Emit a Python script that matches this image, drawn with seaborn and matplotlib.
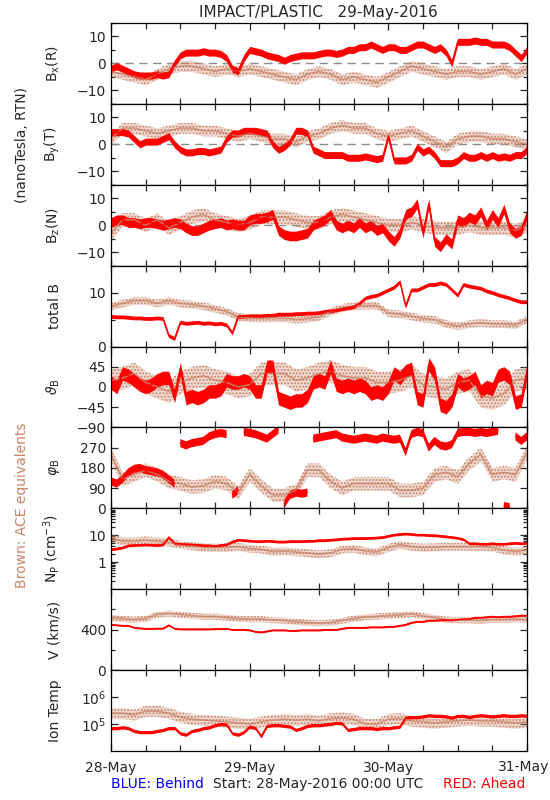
import numpy as np
import matplotlib
matplotlib.use("Agg")
import matplotlib.pyplot as plt
import matplotlib.ticker as mticker
import seaborn as sns

# sample times, hours since 28-May-2016 00:00 UTC
hours_red = list(range(0, 73))      # Ahead, hourly
hours_ace = list(range(0, 73, 2))   # ACE, every 2 h

# Bx (R), nT
bx_red = [-2, -1, -2, -3, -4, -4.5, -4.5, -4.5, -4, -4.5, -4, 0, 3, 4, 4, 4, 4.5, 4, 4, 3.5, 2,
          -2, -3, 2, 5, 4.5, 4, 3, 2.5, 2, 1, 2, 2.5, 3, 3, 3, 3.5, 4, 4, 3.5, 4, 5, 5, 6, 6,
          7, 6, 5, 6, 6, 5, 5, 6, 7, 7, 6, 5, 6, 4, 0, 8, 8, 8, 8.5, 8, 8, 7, 7, 7, 6, 4, 2, 5]
bx_ace = [-3, -4, -5, -6, -4, -2, -1, -1, -2, -3, -2, -3, -2, -3, -4, -5, -6, -4, -3, -4,
          -6, -5, -6, -7, -5, -3, -1, -2, -3, -4, -3, -3, -4, -3, -2, -4, -2]

# By (T), nT
by_red = [4.5, 4.5, 4.5, 4, 2, 0, 1, 1, 1, 2, 3, 0, -2, -3, -3, -2.5, -2.5, -3, -2.5, -2, 2, 4, 4,
          5, 5, 5, 4.5, 4, 0, -2, -1, 1, 5, 5, 4, -2, -3, -4, -4, -4, -4, -5, -5, -5, -4.5, -5,
          -5.5, -5, 3, -6, -6, -6, -5, -1, -3, -2, -4, -7, -7, -7, -6, -4, -5, -5, -4, -5, -4,
          -5, -4.5, -5, -4, -4, -2]
by_ace = [2, 6, 6, 5, 4, 5, 6, 6, 5, 5, 4, 3, 4, 3, 2, 2, 1, 3, 4, 6,
          7, 6, 6, 4, 3, 4, 5, 3, 1, -1, 2, 3, 3, 2, 2, 1, 0]

# Bz (N), nT
bz_red = [1, 2, 2, 1, 1, 0.5, 1, 1, 0.5, 0, 0.5, 1, 0.5, -1, -2, -2, -1, 0, 0.5, 1, 0, 0.5, 0, 0,
          2, 2.5, 2.5, 3, 4, -2, -3.5, -4, -4, -3.5, -3, 0, 1, 2, 4, 0, -1, 0, -1, 1, -1, 0, -2,
          -1, -4, -6, -3, 4, 5, 8, -3, 8, -6, -8, -5, -7, 2, 1, 3, 2, 5, 0, 4, 1, 6, -1, -3, -2, 4]
bz_ace = [-3, 2, 2, 0, 2, -1, 1, 3, 4, 2, 1, 0, 1, 3, 3, 3, 2, 1, 1, 3,
          4, 3, 2, 1, 0, 0, 1, 0, -1, -1, -1, 0, -1, -1, -1, -2, 0]

# total B, nT
btot_red = [5.6, 5.5, 5.5, 5.4, 5.3, 5.3, 5.2, 5.2, 5.3, 5.2, 2.0, 1.5, 4.5, 4.3, 4.4, 4.5, 4.3,
            4.4, 4.2, 4.3, 4.0, 2.5, 5.6, 5.6, 5.7, 5.7, 5.7, 5.8, 5.8, 6.0, 6.0, 6.0, 6.1, 6.1,
            6.2, 6.2, 6.3, 6.5, 6.6, 6.8, 7.0, 7.2, 7.4, 8.0, 9.0, 9.3, 9.5, 10.0, 10.5, 11.0,
            12.0, 7.5, 10.5, 10.5, 11.0, 11.5, 11.5, 11.8, 11.5, 10.5, 9.5, 11.5, 11.2, 11.0,
            10.8, 10.3, 10.0, 9.6, 9.3, 9.0, 8.6, 8.3, 8.3]
btot_ace = [7.5, 8, 8.5, 8.5, 8, 8.5, 8, 7.8, 7.5, 7.0, 6.5, 5.5, 5.3, 5.2, 5.3, 5.3, 5.0, 5.2,
            5.5, 6.5, 7.2, 7.5, 7.6, 7.6, 6.2, 6.0, 5.6, 5.2, 5.0, 4.2, 3.8, 4.2, 4.4, 4.2, 4.2,
            4.0, 5.0]

# theta_B, deg
theta_red = [10, 0, 30, 25, 15, 5, 0, 5, 15, 20, 20, -20, 40, -25, -20, -25, -20, -10, -10, -5,
             15, 10, 10, 15, 10, -10, -10, 45, 45, -25, -30, -35, -30, -30, -20, 10, 15, 10, 45,
             5, 0, 5, 0, 5, 0, -15, -10, -15, 0, 30, 20, 35, 40, -25, -30, 50, 30, -40, -45,
             -30, 15, 5, 10, 20, -10, 0, -5, 25, 30, 20, -35, -30, 35]
theta_ace = [15, 20, 30, 10, 0, -10, 10, 20, 25, 15, 10, 0, 5, 30, 30, 30, 15, 20, 30, 35,
             25, 20, 20, 10, 10, 15, 25, 5, 0, -5, 10, 15, -20, -25, -15, 15, 20]

# phi_B, deg
phi_red = [120, 110, 130, 160, 175, 180, 170, 165, 160, 150, 130, 110, 290, 280, 290, 295, 300,
           320, 330, 335, 330, 60, 80, 340, 335, 330, 320, 310, 330, 350, 20, 60, 70, 65, 70,
           310, 315, 320, 325, 330, 315, 310, 305, 310, 315, 310, 305, 315, 310, 305, 310, 250,
           330, 340, 335, 270, 300, 280, 275, 285, 335, 340, 340, 335, 340, 335, 340, 345, 10,
           5, 320, 300, 320]
phi_ace = [240, 130, 150, 170, 150, 120, 110, 95, 100, 120, 110, 70, 150, 100, 60, 60, 80,
           170, 170, 120, 90, 110, 110, 110, 110, 80, 80, 90, 150, 160, 140, 200, 240, 150,
           160, 150, 250]

# proton density, cm^-3
np_red = [3.0, 3.2, 3.5, 4.2, 4.3, 4.4, 4.5, 4.4, 4.3, 4.5, 8.5, 5.0, 4.8, 4.6, 4.5, 4.4, 4.2,
          4.2, 4.0, 4.3, 4.6, 5.8, 6.8, 6.5, 6.3, 6.0, 6.0, 6.2, 6.0, 5.8, 5.8, 6.0, 6.0, 6.0,
          6.2, 6.2, 6.5, 6.5, 6.8, 7.0, 7.5, 7.5, 7.8, 7.8, 7.8, 8.0, 8.2, 8.5, 9.5, 10.5, 11.0,
          11.5, 11.0, 10.5, 10.5, 10.0, 10.0, 9.5, 9.0, 8.5, 8.0, 7.0, 5.0, 5.0, 4.8, 4.8, 5.0,
          4.8, 4.8, 5.0, 5.2, 5.0, 5.2]
np_ace = [8, 6, 6, 6.5, 6, 5.5, 4.5, 4, 3.5, 3.5, 3.5, 3.8, 3.2, 3.0, 2.5, 2.6, 2.4, 2.2, 2.0,
          2.2, 3.0, 3.2, 2.6, 2.4, 3.5, 4.5, 3.8, 3.5, 3.6, 3.8, 3.8, 3.8, 3.8, 3.5, 2.8, 2.5, 2.8]

# bulk speed, km/s
v_red = [450, 445, 440, 440, 420, 415, 410, 410, 412, 412, 445, 410, 405, 405, 405, 405, 405,
         405, 408, 408, 410, 400, 400, 400, 395, 380, 375, 385, 395, 395, 395, 390, 390, 395,
         395, 395, 395, 400, 400, 400, 410, 420, 420, 420, 420, 425, 425, 425, 430, 430, 440,
         450, 470, 480, 480, 490, 490, 495, 495, 495, 500, 505, 505, 520, 520, 525, 530, 525,
         530, 530, 535, 540, 540]
v_ace = [520, 510, 500, 510, 550, 560, 550, 540, 530, 530, 520, 510, 505, 505, 495, 490, 480,
         470, 465, 470, 490, 510, 525, 530, 540, 545, 555, 535, 520, 500, 495, 495, 490, 500,
         500, 505, 500]

# ion temperature, K
temp_red = [7e4, 7e4, 7.5e4, 7e4, 5.5e4, 5e4, 5e4, 5e4, 5.5e4, 6e4, 7e4, 7e4, 4.5e4, 4e4,
            5.5e4, 6e4, 7e4, 7.5e4, 9e4, 1e5, 9.5e4, 4.5e4, 4e4, 5e4, 8e4, 7e4, 3.5e4, 8.5e4,
            9e4, 9e4, 8.5e4, 8e4, 6e4, 7e4, 8.5e4, 9e4, 9e4, 9.5e4, 1e5, 1.1e5, 1.05e5, 6e4,
            6.5e4, 7e4, 7e4, 7e4, 6.5e4, 7e4, 7e4, 7.5e4, 8e4, 1.7e5, 1.8e5, 1.8e5, 1.9e5,
            2.1e5, 2e5, 2e5, 1.9e5, 1.7e5, 2e5, 2e5, 1.8e5, 2e5, 2.1e5, 2e5, 1.9e5, 2e5, 2.1e5,
            2e5, 2e5, 2.1e5, 2e5]
temp_ace = [2.5e5, 2.5e5, 2.2e5, 3e5, 3e5, 2.5e5, 1.8e5, 1.5e5, 1.4e5, 1.3e5, 1.2e5, 1.1e5,
            1.0e5, 1.2e5, 1.4e5, 1.5e5, 1.4e5, 1.5e5, 1.3e5, 1.6e5, 1.7e5, 1.5e5, 1.0e5, 1.0e5,
            1.5e5, 1.6e5, 1.3e5, 1.2e5, 1.1e5, 1.2e5, 1.3e5, 1.4e5, 1.3e5, 1.3e5, 1.2e5, 1.1e5,
            1.2e5]

day_labels = ["28-May", "29-May", "30-May", "31-May"]

RED = "#ff0000"
BROWN = "#c98468"

sns.set_style("ticks")
plt.rcParams["font.family"] = ["DejaVu Sans"]
plt.rcParams["axes.linewidth"] = 0.9
plt.rcParams["hatch.linewidth"] = 0.9

# (ylabel, red, ace, ylim, major ticks, tick labels, minor ticks, log, red spread, ace spread)
panels = [
    (r"B$_{\rm x}$(R)", bx_red, bx_ace, (-15, 15), [-10, 0, 10], ["\u221210", "0", "10"],
     [-15, -5, 5, 15], False, 1.3, 2.0),
    (r"B$_{\rm y}$(T)", by_red, by_ace, (-15, 15), [-10, 0, 10], ["\u221210", "0", "10"],
     [-15, -5, 5, 15], False, 1.3, 2.0),
    (r"B$_{\rm z}$(N)", bz_red, bz_ace, (-15, 15), [-10, 0, 10], ["\u221210", "0", "10"],
     [-15, -5, 5, 15], False, 1.8, 2.5),
    ("total B", btot_red, btot_ace, (0, 15), [0, 10], ["0", "10"], [5, 15], False, 0.35, 0.7),
    (r"$\vartheta_{\rm B}$", theta_red, theta_ace, (-90, 90), [-90, -45, 0, 45],
     ["\u221290", "\u221245", "0", "45"], [90], False, 15, 25),
    (r"$\varphi_{\rm B}$", phi_red, phi_ace, (0, 360), [0, 90, 180, 270],
     ["0", "90", "180", "270"], [360], False, 18, 30),
    (r"N$_{\rm P}$ (cm$^{-3}$)", np_red, np_ace, (0.1, 100), [1, 10], ["1", "10"], [], True,
     1.12, 1.4),
    ("V (km/s)", v_red, v_ace, (0, 800), [0, 400], ["0", "400"], [200, 600, 800], False, 8, 30),
    ("Ion Temp", temp_red, temp_ace, (1e4, 1e7), [1e5, 1e6], [r"10$^5$", r"10$^6$"], [], True,
     1.15, 1.6),
]

fig, axes = plt.subplots(9, 1, figsize=(5.5, 8), dpi=100, sharex=True)
fig.subplots_adjust(left=0.2018, right=0.9582, top=0.9713, bottom=0.0613, hspace=0)

t_red = np.array(hours_red) / 24.0
t_ace = np.array(hours_ace) / 24.0


def break_wraps(t, v, jump=150):
    # leave a gap where an angle wraps round 0/360
    t, v = np.asarray(t, float), np.asarray(v, float)
    cut = np.where(np.abs(np.diff(v)) > jump)[0] + 1
    tmid = (t[cut - 1] + t[cut]) / 2
    return np.insert(t, cut, tmid), np.insert(v, cut, np.nan)


def band(ax, t, v, spread, color, log, ace):
    v = np.asarray(v, float)
    lo, hi = (v / spread, v * spread) if log else (v - spread, v + spread)
    gaps = np.isnan(v).any()
    if ace:
        # ACE data appear as scattered dots
        ax.fill_between(t, lo, hi, facecolor=color, alpha=0.3, lw=0)
        ax.fill_between(t, lo, hi, facecolor="none", edgecolor=color, hatch=".....", lw=0)
        ax.plot(t, v, color=color, lw=1.2, alpha=0.8)
    else:
        ax.fill_between(t, lo, hi, color=color, lw=0)
        if gaps:
            ax.plot(t, v, color=color, lw=1.0)
        else:
            sns.lineplot(x=t, y=v, ax=ax, color=color, lw=1.0)


for i, (ax, p) in enumerate(zip(axes, panels)):
    label, red, ace, ylim, ticks, tlabels, minor, log, s_red, s_ace = p
    if log:
        ax.set_yscale("log")
    if i < 3:
        ax.axhline(0, color="#8c8c8c", lw=1.0, dashes=(6, 4), zorder=1)
    if i == 5:
        ta, va = break_wraps(t_ace, ace)
        tr, vr = break_wraps(t_red, red)
    else:
        ta, va, tr, vr = t_ace, ace, t_red, red
    band(ax, ta, va, s_ace, BROWN, log, True)
    band(ax, tr, vr, s_red, RED, log, False)

    ax.set_ylim(*ylim)
    ax.set_yticks(ticks, labels=tlabels)
    if log:
        ax.yaxis.set_minor_locator(mticker.LogLocator(base=10, subs=np.arange(2, 10)))
        ax.yaxis.set_minor_formatter(mticker.NullFormatter())
    else:
        ax.set_yticks(minor, minor=True)
    ax.set_ylabel(label, fontsize=10)
    ax.yaxis.set_label_coords(-0.118, 0.5)

    ax.set_xlim(0, 3)
    ax.set_xticks([0, 1, 2, 3])
    ax.set_xticks(np.arange(0, 3.01, 0.25), minor=True)
    ax.tick_params(which="both", direction="in", top=True, right=True, labelsize=10, width=0.9)
    ax.tick_params(which="major", length=5)
    ax.tick_params(which="minor", length=4)
    ax.tick_params(axis="y", which="minor", length=3)
    for s in ax.spines.values():
        s.set_visible(True)
        s.set_color("black")

# last day label sits at the figure's right edge
axes[-1].set_xticklabels(day_labels[:3] + [""])
axes[-1].tick_params(axis="x", pad=7)
fig.text(549 / 550, 1 - 767 / 800, day_labels[3], ha="right", va="center", fontsize=10)

fig.text(0.578, 0.984, "IMPACT/PLASTIC   29-May-2016", ha="center", va="center", fontsize=11)
fig.text(0.04, 1 - 145 / 800, "(nanoTesla, RTN)", rotation=90, ha="center", va="center",
         fontsize=10)
fig.text(0.04, 1 - 505 / 800, "Brown: ACE equivalents", rotation=90, ha="center",
         va="center", fontsize=10, color=BROWN)
fig.text(111 / 550, 1 - 784 / 800, "BLUE: Behind", ha="left", va="center", fontsize=10,
         color="#0000ff")
fig.text(0.578, 1 - 784 / 800, "Start: 28-May-2016 00:00 UTC", ha="center", va="center",
         fontsize=10)
fig.text(525 / 550, 1 - 784 / 800, "RED: Ahead", ha="right", va="center", fontsize=10,
         color=RED)

fig.savefig("out.png", dpi=100)
